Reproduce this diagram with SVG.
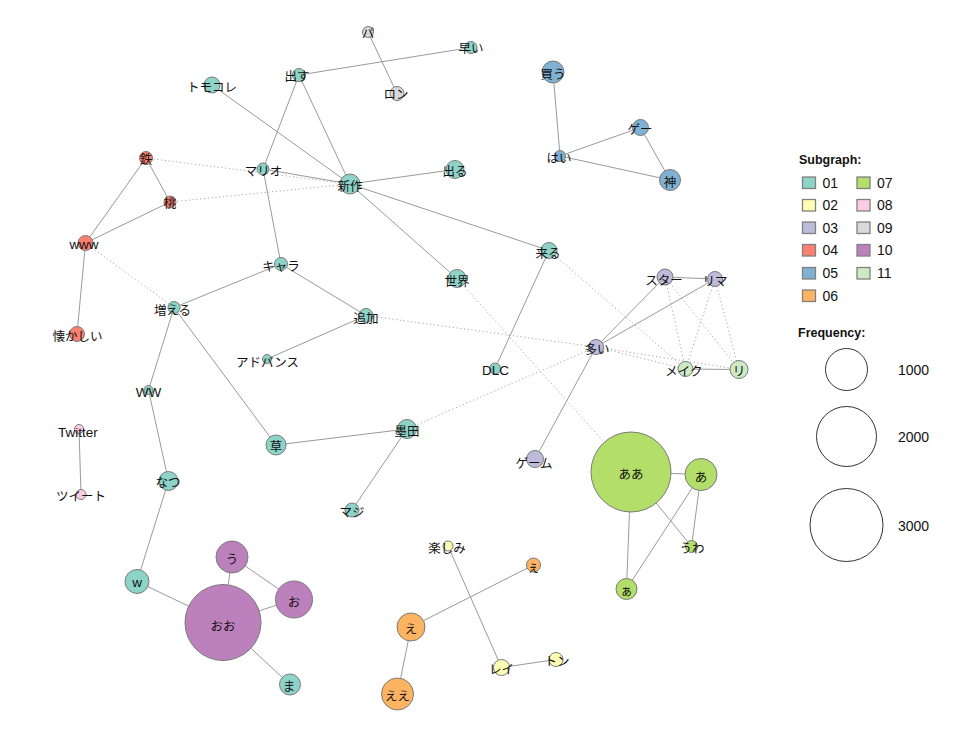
<svg xmlns="http://www.w3.org/2000/svg" width="975" height="731" viewBox="0 0 975 731">
<style>
.e{stroke:#9a9a9a;stroke-width:1;fill:none}
.d{stroke:#a8a8a8;stroke-width:1;stroke-dasharray:1.2 2.6;fill:none}
circle.n{stroke:#7a7a7a;stroke-width:1}
.c01{fill:#8DD3C7}.c02{fill:#FFFFB3}.c03{fill:#BEBADA}.c04{fill:#FB8072}.c05{fill:#80B1D3}.c06{fill:#FDB462}
.c07{fill:#B3DE69}.c08{fill:#FCCDE5}.c09{fill:#D9D9D9}.c10{fill:#BC80BD}.c11{fill:#CCEBC5}
text.l{font-family:"Noto Sans CJK JP","Liberation Sans",sans-serif;font-size:12.5px;fill:#111;text-anchor:middle;dominant-baseline:central}
text.lat{font-family:"Liberation Sans","Noto Sans CJK JP",sans-serif;font-size:13.5px;fill:#111;text-anchor:middle;dominant-baseline:central}
.lg{font-family:"Liberation Sans",Arial,sans-serif;font-size:14px;fill:#111}
.lgt{font-family:"Liberation Sans",Arial,sans-serif;font-size:12.5px;font-weight:bold;fill:#111}
rect.sq{stroke:#808080;stroke-width:1.3}
circle.fq{fill:none;stroke:#333;stroke-width:1}
</style>
<rect width="975" height="731" fill="#fff"/>
<g id="connectors">
<line class="e" x1="368" y1="32" x2="397" y2="93.5"/>
<line class="e" x1="299" y1="75" x2="471" y2="47.5"/>
<line class="e" x1="299" y1="75" x2="263" y2="169"/>
<line class="e" x1="299" y1="75" x2="350" y2="184"/>
<line class="e" x1="212" y1="85" x2="350" y2="184"/>
<line class="e" x1="263" y1="169" x2="350" y2="184"/>
<line class="e" x1="263" y1="169" x2="281" y2="264"/>
<line class="e" x1="350" y1="184" x2="455" y2="169.5"/>
<line class="e" x1="350" y1="184" x2="457" y2="278.5"/>
<line class="e" x1="350" y1="184" x2="549" y2="250.5"/>
<line class="e" x1="146" y1="158" x2="170" y2="202"/>
<line class="e" x1="146" y1="158" x2="85.5" y2="243"/>
<line class="e" x1="170" y1="202" x2="85.5" y2="243"/>
<line class="e" x1="85.5" y1="243" x2="77" y2="334"/>
<line class="e" x1="281" y1="264" x2="174" y2="307.5"/>
<line class="e" x1="281" y1="264" x2="366" y2="315.5"/>
<line class="e" x1="366" y1="315.5" x2="267" y2="359"/>
<line class="e" x1="174" y1="307.5" x2="148.5" y2="390"/>
<line class="e" x1="174" y1="307.5" x2="276" y2="445"/>
<line class="e" x1="148.5" y1="390" x2="168.5" y2="481"/>
<line class="e" x1="168.5" y1="481" x2="137" y2="581.5"/>
<line class="e" x1="137" y1="581.5" x2="223" y2="622.5"/>
<line class="e" x1="223" y1="622.5" x2="232" y2="557"/>
<line class="e" x1="232" y1="557" x2="294" y2="599.5"/>
<line class="e" x1="223" y1="622.5" x2="294" y2="599.5"/>
<line class="e" x1="223" y1="622.5" x2="290" y2="684.5"/>
<line class="e" x1="276" y1="445" x2="407" y2="429"/>
<line class="e" x1="407" y1="429" x2="352" y2="510"/>
<line class="e" x1="549" y1="250.5" x2="495" y2="368.5"/>
<line class="e" x1="596" y1="347" x2="665" y2="277"/>
<line class="e" x1="596" y1="347" x2="715" y2="279"/>
<line class="e" x1="596" y1="347" x2="535" y2="459"/>
<line class="e" x1="665" y1="277" x2="715" y2="279"/>
<line class="e" x1="685.5" y1="369" x2="739" y2="369.5"/>
<line class="e" x1="553" y1="72" x2="560" y2="156"/>
<line class="e" x1="560" y1="156" x2="640.5" y2="127.5"/>
<line class="e" x1="560" y1="156" x2="670" y2="180"/>
<line class="e" x1="640.5" y1="127.5" x2="670" y2="180"/>
<line class="e" x1="79" y1="429" x2="81" y2="494.5"/>
<line class="e" x1="631" y1="472" x2="701" y2="474.5"/>
<line class="e" x1="631" y1="472" x2="691.5" y2="546.5"/>
<line class="e" x1="631" y1="472" x2="626.5" y2="589"/>
<line class="e" x1="701" y1="474.5" x2="691.5" y2="546.5"/>
<line class="e" x1="701" y1="474.5" x2="626.5" y2="589"/>
<line class="e" x1="448" y1="546" x2="501.5" y2="667.5"/>
<line class="e" x1="501.5" y1="667.5" x2="556" y2="659.5"/>
<line class="e" x1="533.5" y1="565" x2="411" y2="627"/>
<line class="e" x1="411" y1="627" x2="397.5" y2="694"/>
<line class="d" x1="146" y1="158" x2="350" y2="184"/>
<line class="d" x1="170" y1="202" x2="350" y2="184"/>
<line class="d" x1="85.5" y1="243" x2="174" y2="307.5"/>
<line class="d" x1="366" y1="315.5" x2="596" y2="347"/>
<line class="d" x1="596" y1="347" x2="685.5" y2="369"/>
<line class="d" x1="596" y1="347" x2="739" y2="369.5"/>
<line class="d" x1="549" y1="250.5" x2="685.5" y2="369"/>
<line class="d" x1="457" y1="278.5" x2="631" y2="472"/>
<line class="d" x1="407" y1="429" x2="596" y2="347"/>
<line class="d" x1="665" y1="277" x2="685.5" y2="369"/>
<line class="d" x1="665" y1="277" x2="739" y2="369.5"/>
<line class="d" x1="715" y1="279" x2="685.5" y2="369"/>
<line class="d" x1="715" y1="279" x2="739" y2="369.5"/>
</g>
<g id="n-pa"><circle class="n c09" cx="368" cy="32" r="5.5"/><text class="l" x="368" y="32">パ</text></g>
<g id="n-ron"><circle class="n c09" cx="397" cy="93.5" r="7"/><text class="l" x="396" y="93.5">ロン</text></g>
<g id="n-hayai"><circle class="n c01" cx="471" cy="47.5" r="6"/><text class="l" x="471" y="47.5">早い</text></g>
<g id="n-dasu"><circle class="n c01" cx="299" cy="75" r="6.5"/><text class="l" x="297" y="75">出す</text></g>
<g id="n-tomokore"><circle class="n c01" cx="212" cy="85" r="8"/><text class="l" x="212" y="86">トモコレ</text></g>
<g id="n-shinsaku"><circle class="n c01" cx="350" cy="184" r="10"/><text class="l" x="350" y="185">新作</text></g>
<g id="n-deru"><circle class="n c01" cx="455" cy="169.5" r="9"/><text class="l" x="455" y="170">出る</text></g>
<g id="n-mario"><circle class="n c01" cx="263" cy="169" r="6"/><text class="l" x="263.5" y="170">マリオ</text></g>
<g id="n-tetsu"><circle class="n c04" cx="146" cy="158" r="6.5"/><text class="l" x="146" y="158">鉄</text></g>
<g id="n-momo"><circle class="n c04" cx="170" cy="202" r="6"/><text class="l" x="170" y="202">桃</text></g>
<g id="n-www"><circle class="n c04" cx="85.5" cy="243" r="7.5"/><text class="lat" x="84" y="244">www</text></g>
<g id="n-natsukashii"><circle class="n c04" cx="77" cy="334" r="7.5"/><text class="l" x="77.5" y="335">懐かしい</text></g>
<g id="n-kyara"><circle class="n c01" cx="281" cy="264" r="6.5"/><text class="l" x="281" y="265">キャラ</text></g>
<g id="n-fueru"><circle class="n c01" cx="174" cy="307.5" r="6"/><text class="l" x="172.5" y="309">増える</text></g>
<g id="n-tsuika"><circle class="n c01" cx="366" cy="315.5" r="7"/><text class="l" x="366" y="317">追加</text></g>
<g id="n-advance"><circle class="n c01" cx="267" cy="359" r="4.5"/><text class="l" x="267.5" y="361">アドバンス</text></g>
<g id="n-sekai"><circle class="n c01" cx="457" cy="278.5" r="9"/><text class="l" x="457" y="280">世界</text></g>
<g id="n-kuru"><circle class="n c01" cx="549" cy="250.5" r="8"/><text class="l" x="548" y="252">来る</text></g>
<g id="n-dlc"><circle class="n c01" cx="495" cy="368.5" r="5.5"/><text class="lat" x="495.5" y="370">DLC</text></g>
<g id="n-ooi"><circle class="n c03" cx="596" cy="347" r="7.5"/><text class="l" x="597" y="348">多い</text></g>
<g id="n-star"><circle class="n c03" cx="665" cy="277" r="8"/><text class="l" x="664" y="279">スター</text></g>
<g id="n-rima"><circle class="n c03" cx="715" cy="279" r="7.5"/><text class="l" x="715" y="280">リマ</text></g>
<g id="n-meiku"><circle class="n c11" cx="685.5" cy="369" r="7.5"/><text class="l" x="684" y="370">メイク</text></g>
<g id="n-ri"><circle class="n c11" cx="739" cy="369.5" r="9"/><text class="l" x="739" y="370">リ</text></g>
<g id="n-kau"><circle class="n c05" cx="553" cy="72" r="11"/><text class="l" x="553" y="73">買う</text></g>
<g id="n-ge"><circle class="n c05" cx="640.5" cy="127.5" r="8"/><text class="l" x="640" y="128">ゲー</text></g>
<g id="n-hai"><circle class="n c05" cx="560" cy="156" r="5.5"/><text class="l" x="559" y="157">はい</text></g>
<g id="n-kami"><circle class="n c05" cx="670" cy="180" r="10.5"/><text class="l" x="670" y="181">神</text></g>
<g id="n-ww"><circle class="n c01" cx="148.5" cy="390" r="4.5"/><text class="lat" x="148.5" y="392">WW</text></g>
<g id="n-twitter"><circle class="n c08" cx="79" cy="429" r="4.5"/><text class="lat" x="78" y="432">Twitter</text></g>
<g id="n-tweet"><circle class="n c08" cx="81" cy="494.5" r="5"/><text class="l" x="81" y="495">ツイート</text></g>
<g id="n-kusa"><circle class="n c01" cx="276" cy="445" r="10"/><text class="l" x="276" y="445">草</text></g>
<g id="n-sumida"><circle class="n c01" cx="407" cy="429" r="9.5"/><text class="l" x="407" y="430">墨田</text></g>
<g id="n-maji"><circle class="n c01" cx="352" cy="510" r="7"/><text class="l" x="352" y="511">マジ</text></g>
<g id="n-game"><circle class="n c03" cx="535" cy="459" r="8.5"/><text class="l" x="534" y="462">ゲーム</text></g>
<g id="n-aa"><circle class="n c07" cx="631" cy="472" r="40"/><text class="l" x="631" y="473">ああ</text></g>
<g id="n-a"><circle class="n c07" cx="701" cy="474.5" r="16"/><text class="l" x="701" y="476">あ</text></g>
<g id="n-uwa"><circle class="n c07" cx="691.5" cy="546.5" r="6"/><text class="l" x="692" y="547">うわ</text></g>
<g id="n-asmall"><circle class="n c07" cx="626.5" cy="589" r="10.5"/><text class="l" x="626.5" y="590">ぁ</text></g>
<g id="n-natsu"><circle class="n c01" cx="168.5" cy="481" r="9.5"/><text class="l" x="168" y="481">なつ</text></g>
<g id="n-w"><circle class="n c01" cx="137" cy="581.5" r="12"/><text class="lat" x="137" y="582">w</text></g>
<g id="n-u"><circle class="n c10" cx="232" cy="557" r="16"/><text class="l" x="232" y="558">う</text></g>
<g id="n-o"><circle class="n c10" cx="294" cy="599.5" r="18.5"/><text class="l" x="294" y="601">お</text></g>
<g id="n-oo"><circle class="n c10" cx="223" cy="622.5" r="38"/><text class="l" x="223" y="625">おお</text></g>
<g id="n-ma"><circle class="n c01" cx="290" cy="684.5" r="10.5"/><text class="l" x="289" y="685">ま</text></g>
<g id="n-tanoshimi"><circle class="n c02" cx="448" cy="546" r="5"/><text class="l" x="447" y="547">楽しみ</text></g>
<g id="n-esmall"><circle class="n c06" cx="533.5" cy="565" r="7"/><text class="l" x="533.5" y="566">ぇ</text></g>
<g id="n-e"><circle class="n c06" cx="411" cy="627" r="14"/><text class="l" x="411" y="628">え</text></g>
<g id="n-ee"><circle class="n c06" cx="397.5" cy="694" r="16"/><text class="l" x="397.5" y="695">ええ</text></g>
<g id="n-rei"><circle class="n c02" cx="501.5" cy="667.5" r="8"/><text class="l" x="501.5" y="668">レイ</text></g>
<g id="n-ton"><circle class="n c02" cx="556" cy="659.5" r="7"/><text class="l" x="557" y="660">トン</text></g>
<g id="legend">
<text class="lgt" x="799" y="164">Subgraph:</text>
<rect class="sq c01" x="802.5" y="177" width="13" height="11.5"/><text class="lg" x="822.5" y="187.5">01</text>
<rect class="sq c02" x="802.5" y="199.5" width="13" height="11.5"/><text class="lg" x="822.5" y="210">02</text>
<rect class="sq c03" x="802.5" y="222" width="13" height="11.5"/><text class="lg" x="822.5" y="232.5">03</text>
<rect class="sq c04" x="802.5" y="244.5" width="13" height="11.5"/><text class="lg" x="822.5" y="255">04</text>
<rect class="sq c05" x="802.5" y="267.5" width="13" height="11.5"/><text class="lg" x="822.5" y="278">05</text>
<rect class="sq c06" x="802.5" y="290" width="13" height="11.5"/><text class="lg" x="822.5" y="300.5">06</text>
<rect class="sq c07" x="857" y="177" width="13" height="11.5"/><text class="lg" x="877" y="187.5">07</text>
<rect class="sq c08" x="857" y="199.5" width="13" height="11.5"/><text class="lg" x="877" y="210">08</text>
<rect class="sq c09" x="857" y="222" width="13" height="11.5"/><text class="lg" x="877" y="232.5">09</text>
<rect class="sq c10" x="857" y="244.5" width="13" height="11.5"/><text class="lg" x="877" y="255">10</text>
<rect class="sq c11" x="857" y="267.5" width="13" height="11.5"/><text class="lg" x="877" y="278">11</text>
<text class="lgt" x="798" y="337">Frequency:</text>
<circle class="fq" cx="846.5" cy="369.5" r="21"/><text class="lg" x="898" y="374.5">1000</text>
<circle class="fq" cx="846.5" cy="436.5" r="30"/><text class="lg" x="898" y="442">2000</text>
<circle class="fq" cx="846.5" cy="525" r="36.5"/><text class="lg" x="898" y="530.5">3000</text>
</g>
</svg>
